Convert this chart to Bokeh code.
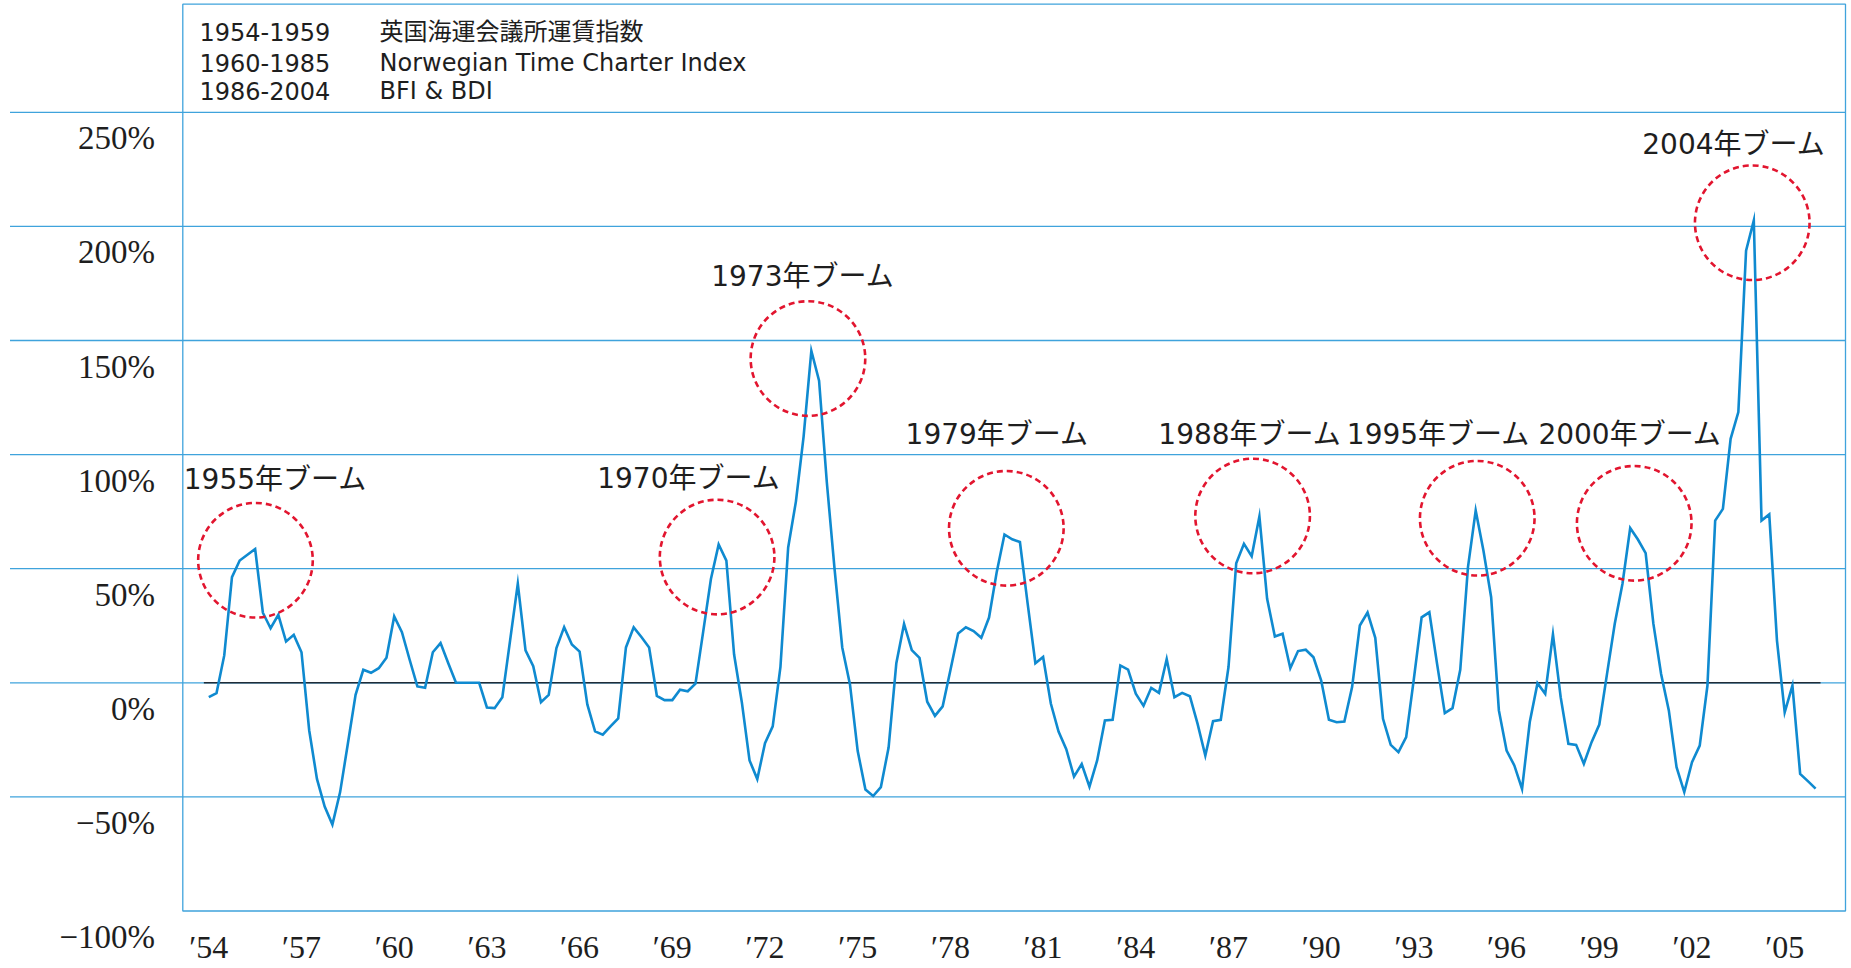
from bokeh.plotting import figure
from bokeh.models import Range1d, ColumnDataSource
from bokeh.core.properties import value
from bokeh.embed import file_html
from bokeh.resources import INLINE

# ---------------- data (quarterly, % change) ----------------
START_YEAR = 1954
values_1954_1959 = [-6.3, -4.5, 12.0, 46.3, 53.6, 56.1, 58.6, 30.7, 23.9, 29.8, 18.1, 21.0,
                    13.4, -20.9, -42.1, -54.2, -62.1, -47.9, -26.7, -5.3, 5.7, 4.4, 6.4, 11.0]
values_1960_1985 = [29.1, 22.2, 10.1, -1.6, -2.2, 13.4, 17.4, 8.6, 0.0, 0.0,
                    0.0, 0.0, -10.8, -11.1, -6.3, 18.5, 43.4, 14.2, 7.3, -8.5,
                    -5.3, 15.2, 24.4, 16.8, 13.7, -9.5, -21.3, -22.7, -19.1, -15.6,
                    15.5, 24.3, 20.1, 15.5, -5.7, -7.6, -7.6, -3.0, -3.7, -0.4,
                    22.4, 45.5, 60.6, 53.5, 12.4, -8.5, -34.0, -42.2, -26.5, -19.1,
                    7.0, 59.3, 79.4, 108.0, 145.5, 132.4, 88.0, 50.0, 15.5, -0.7,
                    -29.9, -46.8, -49.6, -45.7, -28.4, 8.6, 25.8, 14.3, 10.9, -8.3,
                    -14.5, -10.3, 5.5, 21.6, 24.3, 22.7, 19.7, 28.6, 48.6, 65.0,
                    62.9, 61.7, 34.7, 8.6, 11.3, -9.1, -21.4, -29.1, -41.1, -35.6,
                    -45.5, -34.0, -16.5, -16.2, 7.6, 5.8, -4.8, -10.1, -2.2, -4.4,
                    10.4, -6.3, -4.4, -5.9]
values_1986_2006 = [-18.0, -31.9, -16.8, -16.2, 6.9, 52.4, 60.9, 55.5, 72.9, 36.8,
                    20.3, 21.5, 6.4, 13.9, 14.5, 11.2, 1.0, -16.2, -17.3, -17.0,
                    -1.9, 25.1, 30.8, 19.7, -15.8, -27.2, -30.4, -23.8, 1.8, 28.7,
                    30.9, 8.3, -13.3, -11.1, 5.7, 50.7, 75.5, 58.0, 37.5, -12.1,
                    -29.7, -36.2, -46.5, -17.2, -0.2, -4.8, 21.2, -6.3, -26.7, -27.2,
                    -35.5, -26.0, -18.3, 3.9, 25.9, 43.4, 67.8, 62.8, 56.8, 25.9,
                    3.9, -12.1, -37.0, -47.9, -34.8, -27.5, -1.2, 71.1, 76.2, 106.9,
                    118.6, 189.4, 202.6, 71.1, 73.8, 18.5, -12.9, -1.2, -39.9, -43.1,
                    -46.4]

y_ticks = [-100, -50, 0, 50, 100, 150, 200, 250]
y_tick_labels = ["\u2212100%", "\u221250%", "0%", "50%", "100%", "150%", "200%", "250%"]
grid_values = [-50, 0, 50, 100, 150, 200, 250]

x_tick_years = [1954, 1957, 1960, 1963, 1966, 1969, 1972, 1975, 1978,
                1981, 1984, 1987, 1990, 1993, 1996, 1999, 2002, 2005]
x_tick_labels = ["\u203254", "\u203257", "\u203260", "\u203263", "\u203266", "\u203269",
                 "\u203272", "\u203275", "\u203278", "\u203281", "\u203284", "\u203287",
                 "\u203290", "\u203293", "\u203296", "\u203299", "\u203202", "\u203205"]

boom_labels = ["1955年ブーム", "1970年ブーム", "1973年ブーム", "1979年ブーム",
               "1988年ブーム", "1995年ブーム", "2000年ブーム", "2004年ブーム"]
boom_label_x = [1953.19, 1966.57, 1970.26, 1976.55, 1984.73, 1990.83, 1997.03, 2000.39]
boom_label_y = [89.2, 89.7, 178.0, 108.6, 108.6, 108.6, 108.6, 235.9]
boom_circle_x = [1955.51, 1970.45, 1973.39, 1979.81, 1987.78, 1995.05, 2000.13, 2003.95]
boom_circle_y = [53.7, 55.1, 142.1, 67.7, 73.1, 72.1, 69.9, 201.6]

legend_periods = ["1954-1959", "1960-1985", "1986-2004"]
legend_sources = ["英国海運会議所運賃指数", "Norwegian Time Charter Index", "BFI & BDI"]

# ---------------- series ----------------
series = values_1954_1959 + values_1960_1985 + values_1986_2006
years = [START_YEAR + i / 4 for i in range(len(series))]

# ---------------- layout (pixels on the canvas) ----------------
W, H = 1848, 966
PX_PER_YEAR = 30.9
PX_PER_PCT = 2.282
FIRST_POINT_PX = 208.3      # x pixel of the first quarter
ZERO_PX = 682.3             # y pixel of 0 %
BOX_L, BOX_R, BOX_T = 182.3, 1845.0, 3.7
GRID_L = 9.5
YLAB_R = 154.6              # right edge of the y tick labels
YLAB_DROP = 26              # y tick labels sit this far below their grid line
XLAB_PX = 946               # centre of the x tick labels
LEG_X1, LEG_X2 = 199, 379
LEG_ROWS_PX = [31.3, 62.0, 90.0]

x_start = START_YEAR - FIRST_POINT_PX / PX_PER_YEAR


def px_x(px):
    return x_start + px / PX_PER_YEAR


def px_y(py):
    return (ZERO_PX - py) / PX_PER_PCT


x_range = Range1d(px_x(0), px_x(W))
y_range = Range1d(px_y(H), px_y(0))

GRID = "#3fa3dc"
LINE = "#0f8ad0"
RED = "#e2152f"
TEXT = "#1e1e1e"
ZERO = "#1f2c38"
FONT_JP = "DejaVu Sans, Noto Sans CJK JP"
FONT_AXIS = "Liberation Serif"

p = figure(width=W, height=H, x_range=x_range, y_range=y_range,
           output_backend="svg", toolbar_location=None,
           x_axis_location=None, y_axis_location=None,
           min_border_left=0, min_border_right=0, min_border_top=0, min_border_bottom=0)
p.background_fill_color = "white"
p.border_fill_color = "white"
p.outline_line_color = None
p.grid.visible = False

# horizontal grid lines (they run from the label area to the right edge of the box)
p.segment(x0=[px_x(GRID_L)] * len(grid_values), y0=grid_values,
          x1=[px_x(BOX_R)] * len(grid_values), y1=grid_values,
          line_color=GRID, line_width=1.3)

# plot box (including the legend box on top)
p.quad(left=[px_x(BOX_L)], right=[px_x(BOX_R)], bottom=[-100], top=[px_y(BOX_T)],
       fill_color=None, line_color=GRID, line_width=1.3)

# zero line
p.segment(x0=[years[0] - 0.16], y0=[0], x1=[years[-1] + 0.16], y1=[0],
          line_color=ZERO, line_width=1.6)

# data line
p.line(years, series, line_color=LINE, line_width=2.6, line_join="miter")

# boom circles
p.scatter(x=boom_circle_x, y=boom_circle_y, marker="circle", size=114.6,
          fill_color=None, line_color=RED, line_width=2.6, line_dash="6 4")

# boom labels
p.text(x=boom_label_x, y=boom_label_y, text=boom_labels,
       text_font=value(FONT_JP), text_font_size="28px", text_color=TEXT,
       text_align="left", text_baseline="middle")

# legend in the top box
leg_y = [px_y(v) for v in LEG_ROWS_PX]
p.text(x=[px_x(LEG_X1)] * 3, y=leg_y, text=legend_periods,
       text_font=value(FONT_JP), text_font_size="24px", text_color=TEXT,
       text_align="left", text_baseline="middle")
p.text(x=[px_x(LEG_X2)] * 3, y=leg_y, text=legend_sources,
       text_font=value(FONT_JP), text_font_size="24px", text_color=TEXT,
       text_align="left", text_baseline="middle")

# y tick labels, set just below each grid line
ysrc = ColumnDataSource(dict(x=[px_x(YLAB_R)] * len(y_ticks),
                             y=[t - YLAB_DROP / PX_PER_PCT for t in y_ticks],
                             t=y_tick_labels))
p.text(x="x", y="y", text="t", source=ysrc,
       text_font=value(FONT_AXIS), text_font_size="33px", text_color=TEXT,
       text_align="right", text_baseline="middle")

# x tick labels
xsrc = ColumnDataSource(dict(x=x_tick_years, y=[px_y(XLAB_PX)] * len(x_tick_years),
                             t=x_tick_labels))
p.text(x="x", y="y", text="t", source=xsrc,
       text_font=value(FONT_AXIS), text_font_size="32px", text_color=TEXT,
       text_align="center", text_baseline="middle")

open("out.html", "w").write(file_html(p, INLINE))
